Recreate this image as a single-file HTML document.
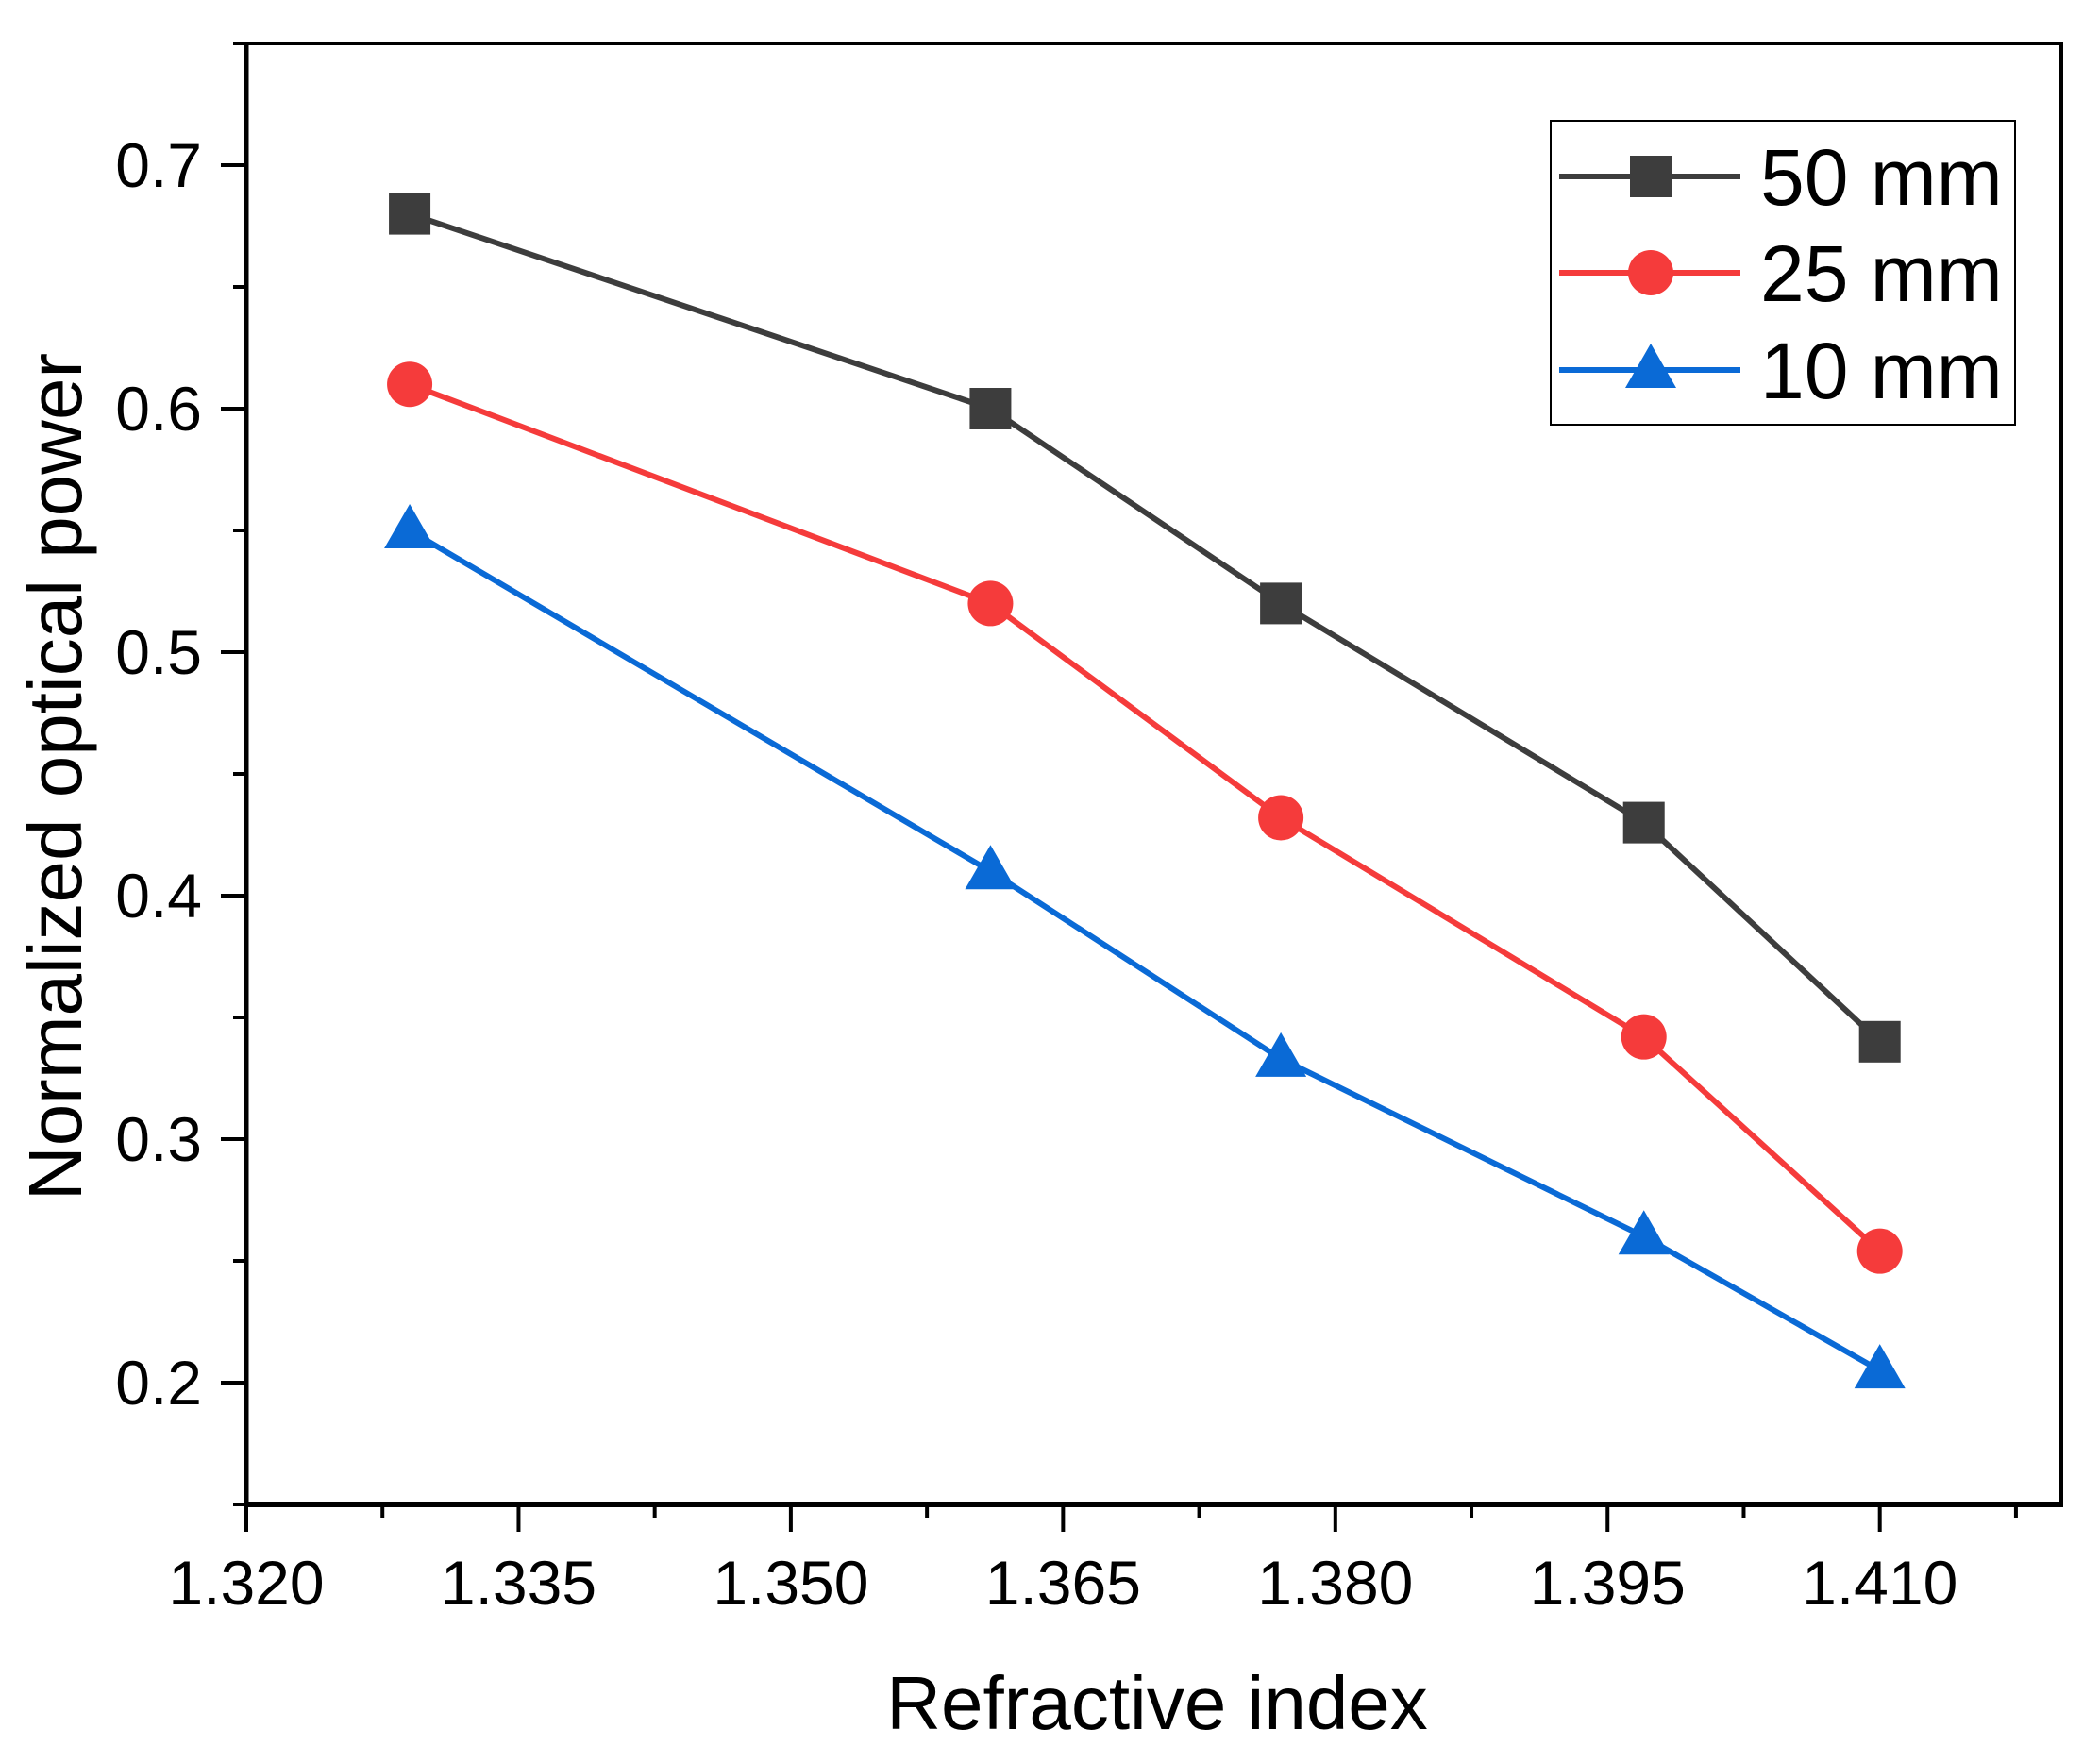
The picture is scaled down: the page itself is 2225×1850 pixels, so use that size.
<!DOCTYPE html>
<html><head><meta charset="utf-8"><style>
html,body{margin:0;padding:0;background:#fff;}
svg{display:block;}
text{font-family:"Liberation Sans",Arial,sans-serif;fill:#000;}
</style></head><body>
<svg id="chart" width="2225" height="1850" viewBox="0 0 2225 1850"></svg>
<script>
const categories=[1.329,1.361,1.377,1.397,1.410];
const series50=[0.68,0.60,0.52,0.43,0.34];
const series25=[0.61,0.52,0.432,0.342,0.254];
const series10=[0.55,0.41,0.333,0.26,0.205];
const xTickLabels=["1.320","1.335","1.350","1.365","1.380","1.395","1.410"];
const yTickLabels=["0.2","0.3","0.4","0.5","0.6","0.7"];
const seriesNames=["50 mm","25 mm","10 mm"];

const NS="http://www.w3.org/2000/svg";
const svg=document.getElementById('chart');
const L=261,R=2184,T=46,B=1594;
const xMin=1.32,xMax=1.42,yMin=0.15,yMax=0.75;
function X(v){return L+(v-xMin)/(xMax-xMin)*(R-L);}
function Y(v){return B-(v-yMin)/(yMax-yMin)*(B-T);}
function el(tag,attrs,parent){const e=document.createElementNS(NS,tag);for(const k in attrs)e.setAttribute(k,attrs[k]);(parent||svg).appendChild(e);return e;}

const frame=el('rect',{x:L,y:T,width:R-L,height:B-T,fill:'none',stroke:'#000','stroke-width':4});


const xAxis=el('line',{x1:L-3,y1:B,x2:R+2,y2:B,stroke:'#000','stroke-width':6});


const yAxis=el('line',{x1:L,y1:T-2,x2:L,y2:B+3,stroke:'#000','stroke-width':5});



for(let i=0;i<xTickLabels.length;i++){
  const v=parseFloat(xTickLabels[i]);const x=X(v);
  const t=el('line',{x1:x,y1:B,x2:x,y2:B+29,stroke:'#000','stroke-width':4});
  
  
  const lb=el('text',{x:x,y:B+106,'font-size':66,'text-anchor':'middle'});
  lb.textContent=xTickLabels[i];
  
  
}
for(let v=xMin+0.0075;v<xMax;v+=0.015){
  const x=X(v);
  const t=el('line',{x1:x,y1:B,x2:x,y2:B+14,stroke:'#000','stroke-width':4});
  
  
}
for(let i=0;i<yTickLabels.length;i++){
  const v=parseFloat(yTickLabels[i]);const y=Y(v);
  const t=el('line',{x1:L,y1:y,x2:L-27,y2:y,stroke:'#000','stroke-width':4});
  
  
  const lb=el('text',{x:214,y:y+23,'font-size':66,'text-anchor':'end'});
  lb.textContent=yTickLabels[i];
  
  
}
for(let v=0.15;v<yMax;v+=0.1){
  const y=Y(v);
  const t=el('line',{x1:L,y1:y,x2:L-14,y2:y,stroke:'#000','stroke-width':4});
  
  
}
const xt=el('text',{x:1226,y:1832,'font-size':80,'text-anchor':'middle'});
xt.textContent='Refractive index';


const yt=el('text',{x:0,y:0,'font-size':80,'text-anchor':'middle',transform:'translate(86,823) rotate(-90)'});
yt.textContent='Normalized optical power';



function marker(type,cx,cy,color,parent){
  let m;
  if(type==='square') m=el('rect',{x:cx-22,y:cy-22,width:44,height:44,fill:color},parent);
  else if(type==='circle') m=el('circle',{cx:cx,cy:cy,r:24,fill:color},parent);
  else m=el('polygon',{points:`${cx},${cy-28} ${cx+27},${cy+19} ${cx-27},${cy+19}`,fill:color},parent);
  return m;
}
const allSeries=[series50,series25,series10];
const colors=['#3d3d3d','#f53b3b','#0a6ad6'];
const types=['square','circle','triangle'];
const keys=['50mm','25mm','10mm'];
for(let s=0;s<3;s++){
  const g=el('g',{});
  
  
  const pts=categories.map((c,i)=>X(c)+','+Y(allSeries[s][i])).join(' ');
  const pl=el('polyline',{points:pts,fill:'none',stroke:colors[s],'stroke-width':6},g);
  
  
  for(let i=0;i<categories.length;i++){
    const m=marker(types[s],X(categories[i]),Y(allSeries[s][i]),colors[s],g);
    
    
  }
}
const lg=el('g',{});


el('rect',{x:1643,y:128,width:492,height:322,fill:'#fff',stroke:'#000','stroke-width':2},lg);
const ly=[187,289,392];
for(let s=0;s<3;s++){
  const e=el('g',{},lg);
  
  
  el('line',{x1:1652,y1:ly[s],x2:1844,y2:ly[s],stroke:colors[s],'stroke-width':6},e);
  marker(types[s],1749,ly[s],colors[s],e);
  const t=el('text',{x:1865,y:ly[s]+30,'font-size':84},e);
  t.textContent=seriesNames[s];
}
</script>
</body></html>
